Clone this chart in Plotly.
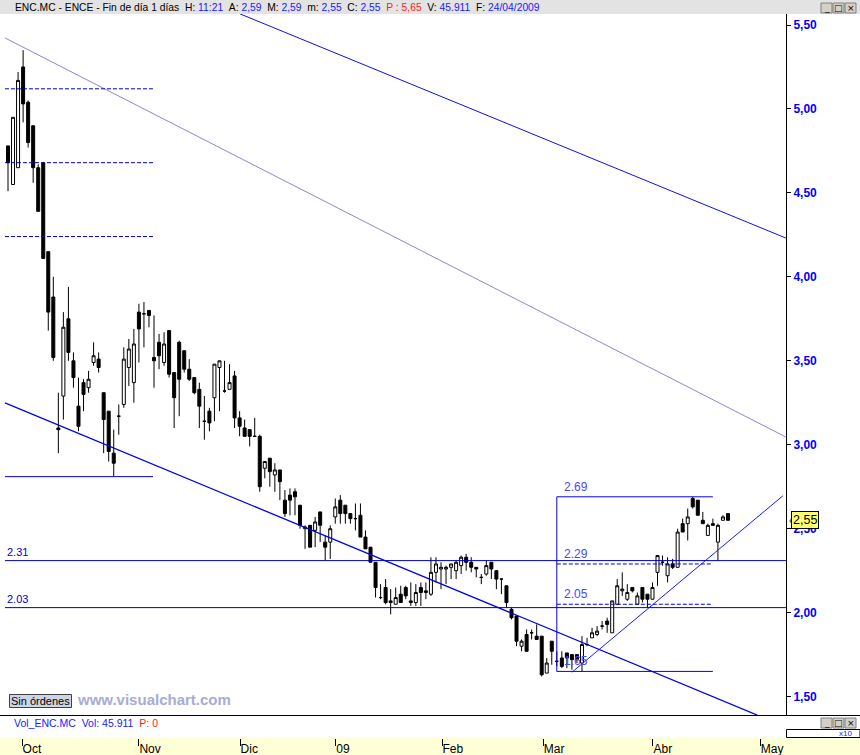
import plotly.graph_objects as go

# ---------------- DATA (trading-day index 0..143, end of Sep 2008 -> 24/04/2009) ----------------
opens = [4.78, 4.55, 4.65, 5.25, 5.04, 4.90, 4.65, 4.68, 4.15, 3.88,
         3.10, 3.29, 3.75, 3.50, 3.23, 3.37, 3.34, 3.49, 3.51, 3.31,
         3.20, 2.95, 3.17, 3.24, 3.46, 3.37, 3.79, 3.78, 3.80, 3.52,
         3.61, 3.49, 3.68, 3.43, 3.61, 3.56, 3.45, 3.40, 3.33, 3.14,
         3.20, 3.28, 3.46, 3.32, 3.33, 3.41, 3.16, 3.10, 3.09, 3.05,
         3.05, 2.86, 2.92, 2.82, 2.85, 2.67, 2.70, 2.72, 2.64, 2.50,
         2.52, 2.49, 2.60, 2.42, 2.42, 2.57, 2.67, 2.64, 2.59, 2.56,
         2.58, 2.45, 2.39, 2.30, 2.09, 2.15, 2.06, 2.05, 2.11, 2.15,
         2.06, 2.06, 2.15, 2.12, 2.11, 2.24, 2.26, 2.26, 2.27, 2.25,
         2.28, 2.33, 2.30, 2.27, 2.21, 2.23, 2.30, 2.25, 2.20, 2.16,
         2.02, 1.98, 1.80, 1.87, 1.88, 1.86, 1.86, 1.64, 1.83, 1.71,
         1.73, 1.76, 1.75, 1.75, 1.70, 1.81, 1.85, 1.87, 1.92, 1.95,
         1.88, 2.05, 2.13, 2.08, 2.15, 2.05, 2.15, 2.11, 2.08, 2.24,
         2.30, 2.22, 2.29, 2.27, 2.53, 2.53, 2.68, 2.67, 2.55, 2.46,
         2.53, 2.42, 2.55, 2.59]
highs = [4.78, 4.95, 5.22, 5.35, 5.05, 4.90, 4.67, 4.68, 4.15, 4.00,
         3.31, 3.79, 3.94, 3.55, 3.40, 3.39, 3.44, 3.61, 3.55, 3.31,
         3.20, 3.09, 3.24, 3.58, 3.63, 3.69, 3.84, 3.85, 3.80, 3.77,
         3.66, 3.67, 3.68, 3.43, 3.62, 3.56, 3.51, 3.40, 3.37, 3.29,
         3.22, 3.48, 3.50, 3.50, 3.48, 3.44, 3.20, 3.15, 3.09, 3.16,
         3.06, 2.90, 2.92, 2.89, 2.85, 2.73, 2.74, 2.74, 2.64, 2.52,
         2.52, 2.57, 2.60, 2.46, 2.52, 2.68, 2.70, 2.64, 2.59, 2.65,
         2.65, 2.49, 2.39, 2.30, 2.17, 2.20, 2.14, 2.15, 2.16, 2.16,
         2.18, 2.17, 2.18, 2.18, 2.33, 2.33, 2.30, 2.28, 2.29, 2.31,
         2.34, 2.35, 2.33, 2.27, 2.23, 2.31, 2.30, 2.25, 2.20, 2.16,
         2.03, 1.98, 1.84, 1.90, 1.90, 1.93, 1.86, 1.73, 1.83, 1.77,
         1.77, 1.76, 1.75, 1.75, 1.86, 1.85, 1.91, 1.92, 1.95, 1.97,
         2.07, 2.20, 2.24, 2.17, 2.15, 2.12, 2.15, 2.11, 2.18, 2.34,
         2.34, 2.33, 2.32, 2.50, 2.56, 2.62, 2.69, 2.67, 2.60, 2.53,
         2.56, 2.53, 2.58, 2.59]
lows = [4.51, 4.55, 4.65, 4.92, 4.77, 4.56, 4.39, 4.11, 3.68, 3.50,
        2.95, 3.15, 3.50, 3.34, 3.08, 3.20, 3.31, 3.47, 3.43, 2.95,
        2.90, 2.81, 3.06, 3.22, 3.35, 3.25, 3.49, 3.58, 3.70, 3.34,
        3.45, 3.47, 3.40, 3.10, 3.17, 3.43, 3.38, 3.30, 3.10, 3.03,
        3.08, 3.14, 3.20, 3.31, 3.33, 3.10, 3.05, 3.05, 2.99, 3.05,
        2.72, 2.80, 2.75, 2.72, 2.67, 2.57, 2.58, 2.58, 2.50, 2.38,
        2.39, 2.39, 2.42, 2.31, 2.32, 2.53, 2.53, 2.53, 2.53, 2.49,
        2.45, 2.38, 2.30, 2.09, 2.08, 2.05, 1.99, 2.05, 2.06, 2.08,
        2.04, 2.04, 2.04, 2.08, 2.10, 2.18, 2.14, 2.17, 2.20, 2.20,
        2.23, 2.25, 2.24, 2.21, 2.17, 2.22, 2.20, 2.14, 2.11, 2.03,
        1.96, 1.80, 1.77, 1.77, 1.84, 1.84, 1.62, 1.64, 1.69, 1.68,
        1.67, 1.67, 1.66, 1.70, 1.65, 1.80, 1.85, 1.86, 1.90, 1.88,
        1.88, 2.05, 2.10, 2.07, 2.12, 2.05, 2.06, 2.03, 2.08, 2.16,
        2.28, 2.18, 2.26, 2.27, 2.48, 2.43, 2.62, 2.58, 2.53, 2.46,
        2.52, 2.31, 2.55, 2.55]
closes = [4.68, 4.95, 5.17, 5.03, 4.80, 4.65, 4.39, 4.11, 3.79, 3.52,
          3.09, 3.70, 3.55, 3.40, 3.11, 3.30, 3.39, 3.53, 3.46, 3.15,
          2.96, 2.89, 3.17, 3.51, 3.57, 3.60, 3.69, 3.78, 3.77, 3.50,
          3.53, 3.60, 3.42, 3.28, 3.39, 3.45, 3.39, 3.31, 3.23, 3.14,
          3.13, 3.48, 3.50, 3.32, 3.37, 3.16, 3.11, 3.05, 3.05, 3.05,
          2.75, 2.90, 2.84, 2.85, 2.78, 2.59, 2.67, 2.69, 2.52, 2.51,
          2.39, 2.54, 2.52, 2.39, 2.50, 2.63, 2.59, 2.59, 2.56, 2.56,
          2.45, 2.38, 2.30, 2.15, 2.09, 2.06, 2.07, 2.09, 2.06, 2.10,
          2.07, 2.12, 2.12, 2.13, 2.24, 2.29, 2.27, 2.27, 2.29, 2.30,
          2.33, 2.30, 2.27, 2.26, 2.21, 2.28, 2.26, 2.20, 2.20, 2.06,
          1.97, 1.83, 1.83, 1.77, 1.88, 1.84, 1.63, 1.70, 1.77, 1.71,
          1.68, 1.73, 1.72, 1.72, 1.81, 1.81, 1.88, 1.89, 1.92, 1.93,
          2.07, 2.16, 2.14, 2.12, 2.13, 2.10, 2.08, 2.08, 2.15, 2.34,
          2.30, 2.29, 2.27, 2.48, 2.48, 2.57, 2.63, 2.58, 2.53, 2.52,
          2.52, 2.52, 2.57, 2.55]
days = list(range(len(opens)))

month_ticks = [2.8, 26.0, 46.1, 65.1, 86.2, 106.3, 128.1, 149.4]
month_labels = ["Oct", "Nov", "Dic", "09", "Feb", "Mar", "Abr", "May"]

price_ticks = [1.5, 2.0, 2.5, 3.0, 3.5, 4.0, 4.5, 5.0, 5.5]
price_labels = ["1,50", "2,00", "2,50", "3,00", "3,50", "4,00", "4,50", "5,00", "5,50"]

# trend lines: (day index, price) end points
channel_top_x, channel_top_y = [46.1, 154.5], [5.566, 4.231]
channel_low_x, channel_low_y = [-0.6, 148.8], [3.249, 1.390]
slow_line_x, slow_line_y = [-0.6, 154.5], [5.423, 3.046]
uptrend_x, uptrend_y = [112.0, 153.9], [1.645, 2.696]

# horizontal levels
left_dashed_levels = [5.12, 4.68, 4.24]
left_span = [-0.6, 28.8]
left_support = 2.81
full_levels = [2.31, 2.03]
full_span = [-0.6, 154.5]
box_span = [109.0, 140.0]
box_top, box_bottom = 2.69, 1.65
box_dashed = [2.29, 2.05]
last_close = 2.55

# ---------------- FIGURE ----------------
W, H = 860, 755
FONT = "Liberation Sans, Arial, sans-serif"


def px(x):
    return x / W


def py(y):
    return (H - y) / H


fig = go.Figure()

fig.add_trace(go.Candlestick(
    x=days, open=opens, high=highs, low=lows, close=closes,
    increasing=dict(line=dict(color="black", width=1), fillcolor="white"),
    decreasing=dict(line=dict(color="black", width=1), fillcolor="black"),
    whiskerwidth=0, hoverinfo="skip", showlegend=False,
))


def seg(xs, ys, color, width=1, dash=None):
    fig.add_trace(go.Scatter(x=xs, y=ys, mode="lines", hoverinfo="skip", showlegend=False,
                             line=dict(color=color, width=width, dash=dash)))


seg(channel_top_x, channel_top_y, "#1010ee", 1)
seg(slow_line_x, slow_line_y, "#8a8ac8", 1)
seg(channel_low_x, channel_low_y, "#0000e6", 1.3)
seg(uptrend_x, uptrend_y, "#1a1aff", 1)

for lv in left_dashed_levels:
    seg(left_span, [lv, lv], "#0000c0", 1, "4px,2px")
seg(left_span, [left_support, left_support], "#0000c0", 1)
for lv in full_levels:
    seg(full_span, [lv, lv], "#0000c8", 1)

seg([box_span[0], box_span[0]], [box_bottom, box_top], "#0000ee", 1)
seg(box_span, [box_top, box_top], "#0000ee", 1)
seg(box_span, [box_bottom, box_bottom], "#0000ee", 1)
for lv in box_dashed:
    seg(box_span, [lv, lv], "#0000ee", 1, "4px,2px")

ann = []
for lv in full_levels:
    ann.append(dict(x=-0.6, y=lv, xref="x", yref="y", text=f"{lv:.2f}", showarrow=False,
                    xanchor="left", yanchor="bottom", yshift=1,
                    font=dict(family=FONT, size=11, color="#0000cc")))
for lv in [box_top] + box_dashed + [box_bottom]:
    ann.append(dict(x=110.0, y=lv, xref="x", yref="y", text=f"{lv:.2f}", showarrow=False,
                    xanchor="left", yanchor="bottom", yshift=1,
                    font=dict(family=FONT, size=12, color="#4848ff")))

# current price tag
ann.append(dict(x=px(791), y=last_close, xref="paper", yref="y", text="2,55", showarrow=False,
                xanchor="left", yanchor="middle", bgcolor="#ffff70", bordercolor="black",
                borderwidth=1, borderpad=1, font=dict(family=FONT, size=12.5, color="black")))
ann.append(dict(x=px(787), y=last_close, xref="paper", yref="y", text="‹", showarrow=False,
                xanchor="left", yanchor="middle", font=dict(family=FONT, size=10, color="black")))

# header
b = lambda s: f"<span style='color:#1a1aff'>{s}</span>"
r = lambda s: f"<span style='color:#ff1a1a'>{s}</span>"
sp = "\u00a0\u00a0"
header = ("ENC.MC - ENCE - Fin de día 1 días" + sp + "H: " + b("11:21") + sp + "A: " + b("2,59") + sp +
          "M: " + b("2,59") + sp + "m: " + b("2,55") + sp + "C: " + b("2,55") + sp + r("P : 5,65") + sp +
          "V: " + b("45.911") + sp + "F: " + b("24/04/2009"))
ann.append(dict(x=px(13), y=py(7), xref="paper", yref="paper", text=header, showarrow=False,
                xanchor="left", yanchor="middle", font=dict(family=FONT, size=10.3, color="black")))

# bottom texts
ann.append(dict(x=px(40), y=py(701), xref="paper", yref="paper", text="Sin órdenes", showarrow=False,
                xanchor="center", yanchor="middle", font=dict(family=FONT, size=11, color="black")))
ann.append(dict(x=px(75), y=py(699), xref="paper", yref="paper", text="<b>www.visualchart.com</b>",
                showarrow=False, xanchor="left", yanchor="middle",
                font=dict(family=FONT, size=15, color="#a6acd6")))
ann.append(dict(x=px(12), y=py(723), xref="paper", yref="paper",
                text="<span style='color:#2020ff'>Vol_ENC.MC" + sp + "Vol: 45.911</span>" + sp +
                     "<span style='color:#ff2020'>P: 0</span>",
                showarrow=False, xanchor="left", yanchor="middle", font=dict(family=FONT, size=10.5)))
ann.append(dict(x=px(854), y=py(733), xref="paper", yref="paper", text="x10", showarrow=False,
                xanchor="right", yanchor="middle", font=dict(family=FONT, size=8, color="#2020ff")))

shapes = []
# header strip
shapes.append(dict(type="rect", xref="paper", yref="paper", x0=0, x1=1, y0=py(14), y1=1,
                   fillcolor="#e3e3e3", line=dict(width=0), layer="below"))
# bottom date strip
shapes.append(dict(type="rect", xref="paper", yref="paper", x0=0, x1=1, y0=0, y1=py(737.5),
                   fillcolor="#ffffd6", line=dict(width=0), layer="below"))
# separator under price pane
shapes.append(dict(type="line", xref="paper", yref="paper", x0=0, x1=1, y0=py(715.5), y1=py(715.5),
                   line=dict(color="black", width=1)))
# volume pane axis box
shapes.append(dict(type="rect", xref="paper", yref="paper", x0=px(786.5), x1=px(860), y0=py(737.5),
                   y1=py(729.5), line=dict(color="black", width=1), fillcolor="white"))
# Sin ordenes button
shapes.append(dict(type="rect", xref="paper", yref="paper", x0=px(9.5), x1=px(71.5), y0=py(707.5),
                   y1=py(694.5), line=dict(color="#404040", width=1), fillcolor="#cdd6e6"))

# window buttons (top and volume pane)
for top in (3, 718):
    for k, glyph in enumerate(["_", "□", "×"]):
        x0 = 821 + k * 12
        shapes.append(dict(type="rect", xref="paper", yref="paper", x0=px(x0), x1=px(x0 + 11),
                           y0=py(top + 10), y1=py(top), fillcolor="#d4d0c8",
                           line=dict(color="#808080", width=1)))
        ann.append(dict(x=px(x0 + 5.5), y=py(top + 5), xref="paper", yref="paper", text=glyph,
                        showarrow=False, xanchor="center", yanchor="middle",
                        font=dict(family="DejaVu Sans", size=9, color="black")))

fig.update_layout(
    width=W, height=H, margin=dict(l=0, r=0, t=0, b=0),
    paper_bgcolor="white", plot_bgcolor="white", showlegend=False,
    boxgap=0.15,
    annotations=ann, shapes=shapes,
    xaxis=dict(domain=[0, px(786)], range=[-1.589, 154.52], anchor="free", position=py(737.5),
               tickmode="array", tickvals=month_ticks, ticktext=month_labels,
               ticks="outside", ticklen=7, tickwidth=1, tickcolor="black",
               ticklabelposition="outside right",
               tickfont=dict(family=FONT, size=12, color="black"),
               showgrid=False, zeroline=False, showline=False, rangeslider=dict(visible=False),
               fixedrange=True),
    yaxis=dict(domain=[py(715), py(14)], range=[1.3904, 5.5655], side="right", anchor="x",
               tickmode="array", tickvals=price_ticks, ticktext=price_labels,
               ticks="outside", ticklen=4, tickwidth=1, tickcolor="black",
               tickfont=dict(family=FONT, size=12, color="#0000ff", weight="bold"),
               showgrid=False, zeroline=False, showline=True, linecolor="black", linewidth=1,
               fixedrange=True),
)

fig.write_html(
    "out.html",
    config={"displayModeBar": False, "staticPlot": True},
    post_script="document.body.style.margin='0px';document.body.style.padding='0px';"
                "document.body.style.overflow='hidden';",
)
